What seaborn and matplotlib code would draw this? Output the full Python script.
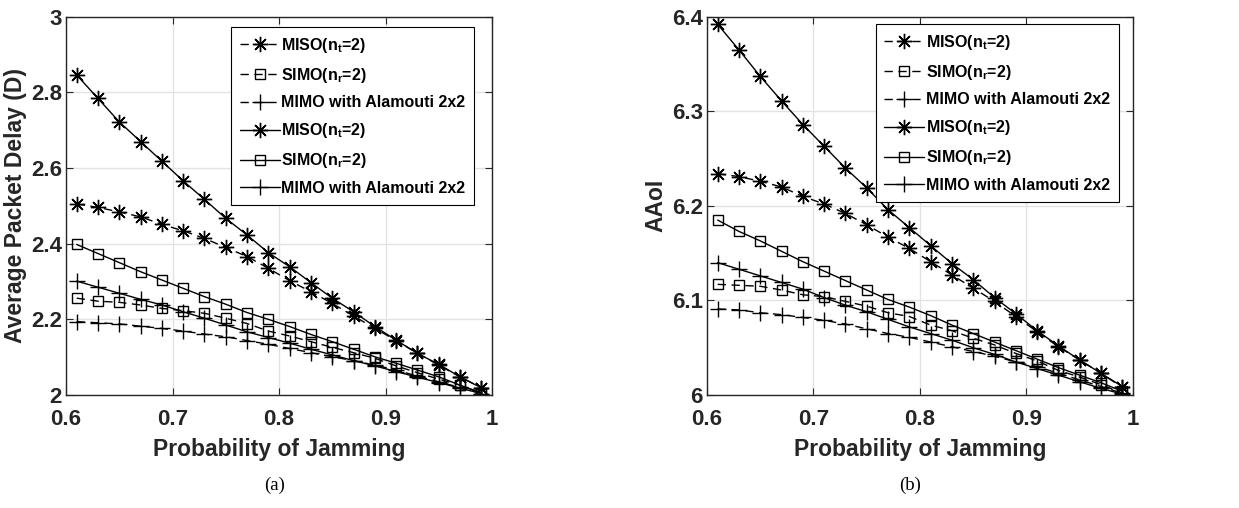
import numpy as np
import pandas as pd
import matplotlib
matplotlib.use("Agg")
import matplotlib.pyplot as plt
import seaborn as sns

# Probabilidad de jamming (eje x, igual para las dos gráficas)
prob_jamming = [0.61, 0.63, 0.65, 0.67, 0.69, 0.71, 0.73, 0.75, 0.77, 0.79,
                0.81, 0.83, 0.85, 0.87, 0.89, 0.91, 0.93, 0.95, 0.97, 0.99]

# (a) Average Packet Delay
delay_miso_dash = [2.505, 2.496, 2.484, 2.471, 2.451, 2.434, 2.414, 2.390, 2.366, 2.335,
                   2.302, 2.273, 2.242, 2.209, 2.176, 2.144, 2.110, 2.079, 2.048, 2.019]
delay_simo_dash = [2.256, 2.248, 2.245, 2.238, 2.229, 2.223, 2.216, 2.203, 2.189, 2.169,
                   2.156, 2.141, 2.126, 2.112, 2.097, 2.077, 2.059, 2.042, 2.026, 2.004]
delay_mimo_dash = [2.194, 2.191, 2.188, 2.182, 2.176, 2.169, 2.161, 2.154, 2.144, 2.134,
                   2.123, 2.112, 2.101, 2.091, 2.079, 2.066, 2.050, 2.035, 2.020, 2.004]
delay_miso_solid = [2.846, 2.784, 2.722, 2.670, 2.618, 2.566, 2.517, 2.467, 2.423, 2.376,
                    2.339, 2.297, 2.256, 2.220, 2.181, 2.145, 2.110, 2.081, 2.048, 2.019]
delay_simo_solid = [2.398, 2.374, 2.350, 2.326, 2.304, 2.282, 2.260, 2.240, 2.218, 2.200,
                    2.181, 2.160, 2.141, 2.121, 2.101, 2.084, 2.066, 2.048, 2.026, 2.006]
delay_mimo_solid = [2.301, 2.285, 2.269, 2.253, 2.238, 2.220, 2.203, 2.185, 2.167, 2.152,
                    2.137, 2.121, 2.106, 2.091, 2.077, 2.062, 2.047, 2.033, 2.018, 2.004]

# (b) AAoI
aaoi_miso_dash = [6.234, 6.231, 6.226, 6.220, 6.210, 6.202, 6.192, 6.180, 6.167, 6.155,
                  6.141, 6.127, 6.113, 6.099, 6.083, 6.067, 6.051, 6.037, 6.023, 6.008]
aaoi_simo_dash = [6.117, 6.116, 6.115, 6.111, 6.106, 6.104, 6.099, 6.094, 6.087, 6.083,
                  6.074, 6.068, 6.060, 6.053, 6.044, 6.036, 6.026, 6.019, 6.011, 6.002]
aaoi_mimo_dash = [6.091, 6.090, 6.087, 6.085, 6.082, 6.079, 6.075, 6.070, 6.065, 6.061,
                  6.056, 6.051, 6.046, 6.041, 6.035, 6.030, 6.023, 6.016, 6.009, 6.002]
aaoi_miso_solid = [6.392, 6.365, 6.337, 6.311, 6.286, 6.263, 6.240, 6.219, 6.196, 6.177,
                   6.158, 6.139, 6.122, 6.103, 6.086, 6.068, 6.052, 6.037, 6.023, 6.009]
aaoi_simo_solid = [6.185, 6.173, 6.163, 6.152, 6.141, 6.131, 6.121, 6.111, 6.101, 6.093,
                   6.084, 6.074, 6.065, 6.056, 6.047, 6.038, 6.029, 6.021, 6.013, 6.004]
aaoi_mimo_solid = [6.140, 6.133, 6.126, 6.119, 6.112, 6.103, 6.095, 6.088, 6.080, 6.072,
                   6.065, 6.058, 6.050, 6.043, 6.035, 6.028, 6.021, 6.014, 6.007, 6.001]

series_labels = [r"MISO(n$_\mathbf{t}$=2)", r"SIMO(n$_\mathbf{r}$=2)", "MIMO with Alamouti 2x2"]

sns.set_theme(style="whitegrid")
plt.rcParams["font.family"] = ["Liberation Sans", "DejaVu Sans"]
plt.rcParams["font.weight"] = "bold"
plt.rcParams["mathtext.fontset"] = "custom"
plt.rcParams["mathtext.bf"] = "Liberation Sans:bold"
plt.rcParams["mathtext.rm"] = "Liberation Sans:bold"
plt.rcParams["mathtext.it"] = "Liberation Sans:bold"

TEXT = "#262626"
STAR = (8, 2, 0)
markers = [STAR, "s", "+"]
msizes = [11, 7, 11]


def dibujar(ax, dashed, solid, ylabel, ylim, yticks, legend_anchor):
    for vals, lbl, mk, ms in zip(dashed, series_labels, markers, msizes):
        sns.lineplot(x=prob_jamming, y=vals, ax=ax, color="black", lw=1.0,
                     marker=mk, markersize=ms, markerfacecolor="none",
                     markeredgecolor="black", markeredgewidth=1.0,
                     label=lbl)
        ax.lines[-1].set_linestyle((0, (6, 4)))
    for vals, lbl, mk, ms in zip(solid, series_labels, markers, msizes):
        sns.lineplot(x=prob_jamming, y=vals, ax=ax, color="black", lw=1.0,
                     marker=mk, markersize=ms, markerfacecolor="none",
                     markeredgecolor="black", markeredgewidth=1.0,
                     label=lbl)

    ax.set_xlim(0.6, 1.0)
    ax.set_ylim(*ylim)
    ax.set_xticks([0.6, 0.7, 0.8, 0.9, 1.0])
    ax.set_xticklabels(["0.6", "0.7", "0.8", "0.9", "1"])
    ax.set_yticks(yticks)
    ax.set_yticklabels([f"{t:g}" for t in yticks])
    ax.grid(True, color="#e3e3e3", lw=1.0)
    for s in ax.spines.values():
        s.set_color(TEXT)
        s.set_linewidth(1.0)
    ax.tick_params(axis="both", direction="in", length=5, width=0.8, colors=TEXT,
                   labelsize=16, top=True, right=True, bottom=True, left=True)
    ax.tick_params(axis="x", pad=10)
    ax.tick_params(axis="y", pad=3)
    for t in ax.get_xticklabels() + ax.get_yticklabels():
        t.set_fontweight("bold")
        t.set_color(TEXT)
    ax.set_xlabel("Probability of Jamming", fontsize=16.5, fontweight="bold", color=TEXT, labelpad=6)
    ax.set_ylabel(ylabel, fontsize=16.5, fontweight="bold", color=TEXT, labelpad=3)

    leg = ax.legend(loc="upper right", bbox_to_anchor=legend_anchor, borderaxespad=0,
                    fancybox=False, framealpha=1, edgecolor="black",
                    prop={"weight": "bold", "size": 11.5}, handlelength=2.5,
                    handletextpad=0.1, labelspacing=0.68, borderpad=0.55)
    leg.get_frame().set_linewidth(0.8)
    for t in leg.get_texts():
        t.set_color("black")


fig = plt.figure(figsize=(12.39, 5.08), dpi=100)
ax1 = fig.add_axes([0.0533, 0.2224, 0.3438, 0.7447])
ax2 = fig.add_axes([0.5706, 0.2224, 0.3438, 0.7447])

dibujar(ax1,
        [delay_miso_dash, delay_simo_dash, delay_mimo_dash],
        [delay_miso_solid, delay_simo_solid, delay_mimo_solid],
        "Average Packet Delay (D)", (2, 3), [2, 2.2, 2.4, 2.6, 2.8, 3],
        (0.958, 0.973))
dibujar(ax2,
        [aaoi_miso_dash, aaoi_simo_dash, aaoi_mimo_dash],
        [aaoi_miso_solid, aaoi_simo_solid, aaoi_mimo_solid],
        "AAoI", (6, 6.4), [6, 6.1, 6.2, 6.3, 6.4],
        (0.967, 0.981))

fig.text(0.2215, 0.045, "(a)", ha="center", va="center", fontsize=13.5,
         family=["Liberation Serif", "DejaVu Serif"], fontweight="normal", color="black")
fig.text(0.7345, 0.045, "(b)", ha="center", va="center", fontsize=13.5,
         family=["Liberation Serif", "DejaVu Serif"], fontweight="normal", color="black")

fig.savefig("out.png", dpi=100)
plt.close(fig)
